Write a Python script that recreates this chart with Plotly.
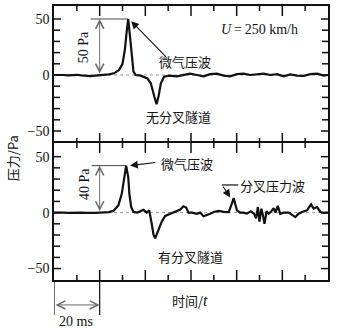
import plotly.graph_objects as go

# ---------------- data ----------------
# time in ms, pressure in Pa
t_top = [0, 2, 4, 6, 8, 10, 12, 14, 16, 18, 20, 22, 24, 26.3, 28.5, 30, 31, 31.9, 32.5,
         33.3, 34.1, 34.8, 35.8, 38, 40.9, 42.4, 43.9, 44.9, 45.8, 46.8, 48.2, 50.4,
         53.8, 56.7, 59.6, 62.6, 65.5, 68.4, 71.4, 74.3, 77.2, 80.1, 83, 86, 88.9, 91.8,
         94.7, 97.7, 100.6, 103.5, 106.4, 109.4, 112.3, 115.2, 118.1, 120]
p_top = [0, 0.3, 0, -0.3, 0, 0.2, -0.3, -0.8, -1, -0.6, -0.3, 0, 0.5, 1.5, 4.4, 10, 22, 40, 50,
         34, 13, 3, 0, -0.6, -3, -7.4, -19, -26, -19, -7.4, -1.5, -0.6,
         -1.2, 0, 1.2, 0, -1.2, 0.8, 1.2, -0.5, -1.2, 0.8, 1.2, 0, 0.8, 1.2,
         0, 0.8, -1.2, 0.5, -0.5, -0.8, 0.8, 1.2, -0.5, 0]

t_bot = [0, 2, 4, 6, 8, 10, 12, 14, 16, 18, 20, 22, 24, 26, 28.2, 29.7, 30.7, 31.6, 32.5, 33,
         33.8, 34.8, 36.5, 38, 39.2, 40.6, 41.7, 42.8, 43.6, 44.3, 45.8, 47.2, 48.7, 50.9,
         52.3, 53.8, 55.3, 56.7, 57.9, 58.9, 60.4, 62.6, 64, 65.5, 67, 68.4, 69.9, 72.1,
         74.3, 76.5, 77.9, 78.7, 80.1, 81.5, 83, 84.5, 86.2, 87.6, 88.5, 89.3, 90, 90.8,
         91.5, 92.2, 93.1, 94, 95.2, 96.2, 97, 98, 99.1, 100.6, 102.8, 104.2, 105.7, 107.1,
         108.6, 110.8, 112.6, 113.7, 115.2, 116.7, 118.1, 120]
p_bot = [0, 0.2, 0, -0.2, 0, 0.2, 0, -0.3, -0.5, -0.3, 0, 0.2, 0.5, 1.5, 6.5, 17, 32, 42, 32, 17,
         5, 0.6, 0, 1, 2.5, 0, 2, -10, -20, -23, -16, -8, -3, -1,
         0.6, 2, 2.7, 5.7, 4.5, 0, 0, -1, 0, -3.3, -2.4, -1, 0.6, 1.5,
         0.6, 0.5, 8, 13, 2, 0, 0, -0.9, 1.2, -0.9, -5, 5, -8, 3.5,
         -2.4, -10, 1.2, -1, 1.2, 4, 0, 6, -1, 0, 0, -1.8, -4, -1,
         0.6, 2, 7.4, 3.6, 5, 0.6, -0.3, 0]

x_range = [0, 120]
x_major_ticks = [20, 40, 60, 80, 100]
x_minor_ticks = [10, 30, 50, 70, 90, 110]
top_range = [-60.7, 61.6]
bot_range = [-60.2, 62.2]
y_ticks = [-50, 0, 50]          # labelled ticks (shown as −50, 0, 50)
y_minor_ticks = [-40, -30, -20, -10, 10, 20, 30, 40]

SERIF = "Liberation Serif"
CJK = "Noto Sans CJK SC"
INK = "#111111"
GRAY = "#6b6b6b"

W, H = 351, 333
M = dict(l=54, r=23, t=6, b=53)
PLOT_W = W - M["l"] - M["r"]
PANEL_H = (H - M["t"] - M["b"]) / 2.0

fig = go.Figure()

# tick marks as line traces (inside, on all four sides of each panel)
x_per_px = (x_range[1] - x_range[0]) / PLOT_W
for xa, ya, rng in (("x", "y", top_range), ("x2", "y2", bot_range)):
    y_per_px = (rng[1] - rng[0]) / PANEL_H
    tx, ty = [], []
    for vals, L in ((x_major_ticks, 10), (x_minor_ticks, 5)):
        for v in vals:
            tx += [v, v, None, v, v, None]
            ty += [rng[0], rng[0] + L * y_per_px, None, rng[1], rng[1] - L * y_per_px, None]
    for vals, L in ((y_ticks, 7), (y_minor_ticks, 6)):
        for v in vals:
            tx += [x_range[0], x_range[0] + L * x_per_px, None,
                   x_range[1], x_range[1] - L * x_per_px, None]
            ty += [v, v, None, v, v, None]
    fig.add_trace(go.Scatter(x=tx, y=ty, mode="lines", xaxis=xa, yaxis=ya,
                             line=dict(color=INK, width=1.5), hoverinfo="skip",
                             showlegend=False, cliponaxis=False))

fig.add_trace(go.Scatter(x=t_top, y=p_top, mode="lines", xaxis="x", yaxis="y",
                         line=dict(color=INK, width=2.2), showlegend=False))
fig.add_trace(go.Scatter(x=t_bot, y=p_bot, mode="lines", xaxis="x2", yaxis="y2",
                         line=dict(color=INK, width=2.2), showlegend=False))

common = dict(showgrid=False, zeroline=False, showline=True,
              automargin=False, linecolor=INK, linewidth=1.5, ticks="")

shapes = []
# dotted zero lines
for yr, xr in (("y", "x"), ("y2", "x2")):
    shapes.append(dict(type="line", xref=xr, yref=yr, x0=x_range[0], x1=x_range[1], y0=0, y1=0,
                       line=dict(color="#9a9a9a", width=1, dash="dot"), layer="below"))

peak_top = max(p_top)
peak_bot = max(p_bot)
t_peak_top = t_top[p_top.index(peak_top)]
t_peak_bot = t_bot[p_bot.index(peak_bot)]

# horizontal reference lines at the peaks
shapes.append(dict(type="line", xref="x", yref="y", x0=16, x1=t_peak_top, y0=peak_top, y1=peak_top,
                   line=dict(color="#444", width=1)))
shapes.append(dict(type="line", xref="x2", yref="y2", x0=16.5, x1=t_peak_bot, y0=peak_bot, y1=peak_bot,
                   line=dict(color="#444", width=1)))
# leader line for branch pressure wave
shapes.append(dict(type="line", xref="x2", yref="y2", x0=73.6, x1=80.7, y0=24.7, y1=24.7,
                   line=dict(color=INK, width=1.2)))
# extension lines for the 20 ms scale
for xv in (0, 20):
    shapes.append(dict(type="line", xref="x2", yref="paper", x0=xv, x1=xv, y0=0, y1=-0.128,
                       line=dict(color=INK, width=1.2)))

ann = []
cjk = dict(family=CJK, size=13, color=INK)
serif = dict(family=SERIF, size=14, color=INK)
mid = dict(xanchor="center", yanchor="middle", showarrow=False)

# top panel
ann.append(dict(x=20, y=peak_top, ax=20, ay=0, xref="x", yref="y", axref="x", ayref="y",
                text="", showarrow=True, arrowhead=5, startarrowhead=5, arrowside="end+start",
                arrowsize=1.6, startarrowsize=1.6, arrowwidth=1, arrowcolor=GRAY))
ann.append(dict(mid, x=12.8, y=25, xref="x", yref="y", text="50 Pa", textangle=-90, font=serif))
ann.append(dict(x=33.8, y=48, ax=49.6, ay=15, xref="x", yref="y", axref="x", ayref="y",
                text="", showarrow=True, arrowhead=2, arrowsize=1.4, arrowwidth=1.1, arrowcolor=INK))
ann.append(dict(mid, x=57.2, y=11.9, xref="x", yref="y", text="微气压波", font=cjk))
ann.append(dict(mid, x=54.4, y=-37.2, xref="x", yref="y", text="无分叉隧道", font=cjk))
ann.append(dict(mid, x=89.9, y=41, xref="x", yref="y", text="<i>U</i>\u2009=\u2009250 km/h",
                font=serif))

# bottom panel
ann.append(dict(x=20, y=peak_bot, ax=20, ay=0, xref="x2", yref="y2", axref="x2", ayref="y2",
                text="", showarrow=True, arrowhead=5, startarrowhead=5, arrowside="end+start",
                arrowsize=1.6, startarrowsize=1.6, arrowwidth=1, arrowcolor=GRAY))
ann.append(dict(mid, x=13.6, y=25.6, xref="x2", yref="y2", text="40 Pa", textangle=-90, font=serif))
ann.append(dict(x=33.3, y=42, ax=45, ay=45, xref="x2", yref="y2", axref="x2", ayref="y2",
                text="", showarrow=True, arrowhead=2, arrowsize=1.4, arrowwidth=1.1, arrowcolor=INK))
ann.append(dict(mid, x=58.1, y=44.3, xref="x2", yref="y2", text="微气压波", font=cjk))
ann.append(dict(x=77.2, y=13.6, ax=73.6, ay=24.7, xref="x2", yref="y2", axref="x2", ayref="y2",
                text="", showarrow=True, arrowhead=2, arrowsize=1.4, arrowwidth=1.1, arrowcolor=INK))
ann.append(dict(mid, x=95.8, y=24.3, xref="x2", yref="y2", text="分叉压力波", font=cjk))
ann.append(dict(mid, x=59.9, y=-39.5, xref="x2", yref="y2", text="有分叉隧道", font=cjk))

# axis titles and scale bar
ann.append(dict(mid, x=-0.153, y=0.445, xref="paper", yref="paper", text="压力/Pa", textangle=-90,
                font=dict(family=CJK, size=13, color=INK)))
ann.append(dict(mid, x=59.6, y=-0.073, xref="x2", yref="paper",
                text="时间/<i><span style='font-family:Liberation Serif;font-size:16px'>t</span></i>",
                font=dict(family=CJK, size=13, color=INK)))
ann.append(dict(x=20, y=-0.091, ax=0, ay=0, xref="x2", yref="paper", axref="x2", ayref="pixel",
                text="", showarrow=True, arrowhead=5, startarrowhead=5, arrowside="end+start",
                arrowsize=1.6, startarrowsize=1.6, arrowwidth=1, arrowcolor=GRAY))
ann.append(dict(mid, x=9.6, y=-0.152, xref="x2", yref="paper", text="20 ms", font=serif))

fig.update_layout(width=W, height=H, margin=dict(M, autoexpand=False),
                  paper_bgcolor="white", plot_bgcolor="white",
                  xaxis=dict(common, domain=[0, 1], anchor="y", side="top", mirror=False,
                             range=x_range, showticklabels=False),
                  xaxis2=dict(common, domain=[0, 1], anchor="y2", mirror=True,
                              range=x_range, showticklabels=False),
                  yaxis=dict(common, domain=[0.5, 1], anchor="x", range=top_range, mirror=True,
                             tickmode="array", tickvals=y_ticks,
                             tickfont=dict(family=SERIF, size=14, color=INK)),
                  yaxis2=dict(common, domain=[0, 0.5], anchor="x2", range=bot_range, mirror=True,
                              tickmode="array", tickvals=y_ticks,
                              tickfont=dict(family=SERIF, size=14, color=INK)),
                  shapes=shapes, annotations=ann, showlegend=False)

fig.write_html("out.html", config={"displayModeBar": False},
               post_script="document.body.style.margin='0';document.body.style.padding='0';")
